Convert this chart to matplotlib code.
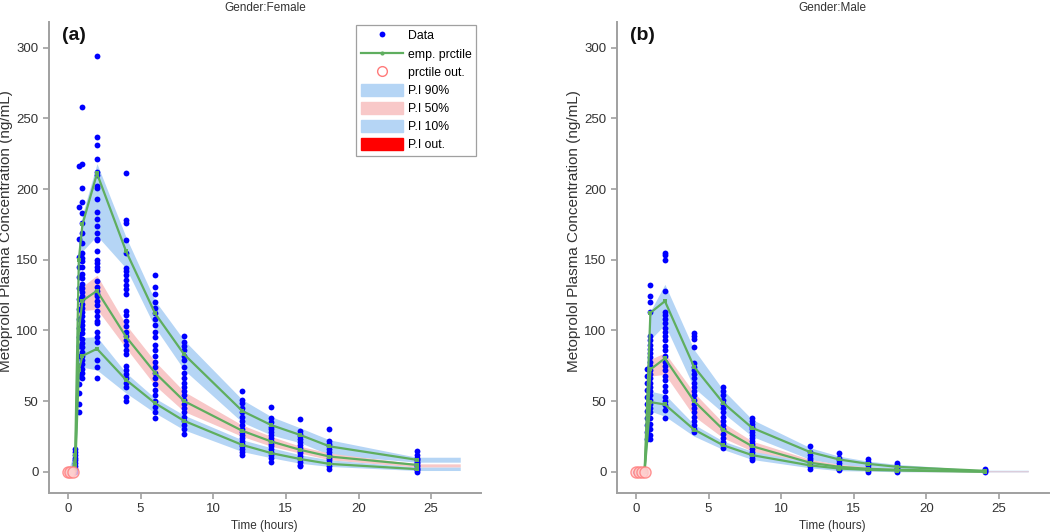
import matplotlib
matplotlib.use("Agg")
import matplotlib.pyplot as plt
from matplotlib.lines import Line2D
from matplotlib.patches import Patch

plt.rcParams["font.family"] = ["Liberation Sans", "DejaVu Sans"]

# ---- Female: observed concentrations by nominal time ----
F_DATA = {
    0.0: [0, 0, 0, 0],
    0.5: [0, 2, 4, 6, 8, 10, 12, 14, 16],
    0.75: [216, 187, 165, 152, 145, 138, 130, 122, 115, 108, 102, 95, 89, 82,
           75, 68, 62, 56, 48, 42],
    1.0: [258, 218, 201, 191, 183, 176, 169, 162, 155, 151, 149, 145, 140, 137,
          133, 130, 127, 124, 122, 119, 116, 113, 110, 107, 104, 101, 98, 94,
          91, 88, 85, 82, 79, 76, 73, 70, 66],
    2.0: [294, 237, 231, 221, 212, 210, 202, 201, 193, 184, 179, 174, 169, 165,
          164, 156, 150, 148, 145, 143, 135, 131, 128, 126, 124, 121, 118, 114,
          110, 107, 105, 99, 95, 92, 79, 74, 66],
    4.0: [211, 178, 176, 164, 155, 144, 142, 139, 136, 132, 129, 126, 114, 111,
          107, 103, 99, 96, 93, 90, 86, 83, 75, 72, 69, 66, 63, 60, 53, 50],
    6.0: [139, 131, 126, 120, 116, 112, 108, 104, 99, 95, 90, 86, 82, 78, 74,
          70, 66, 62, 58, 54, 50, 46, 42, 38],
    8.0: [96, 92, 89, 86, 82, 79, 74, 70, 66, 63, 60, 57, 54, 51, 48, 45, 42,
          39, 36, 33, 30, 27],
    12.0: [57, 51, 49, 45, 42, 39, 36, 33, 30, 28, 26, 24, 22, 20, 18, 16, 14, 12],
    14.0: [46, 38, 35, 32, 30, 28, 26, 24, 22, 20, 18, 16, 14, 12, 10, 7],
    16.0: [37, 29, 27, 25, 23, 21, 19, 17, 15, 13, 11, 9, 7, 5, 4],
    18.0: [30, 22, 20, 18, 16, 14, 12, 10, 8, 6, 4, 2],
    24.0: [15, 12, 10, 9, 8, 7, 6, 5, 4, 3, 2, 1, 0],
}

# ---- Male: observed concentrations by nominal time ----
M_DATA = {
    0.0: [0, 0, 0, 0],
    0.75: [73, 68, 63, 58, 53, 48, 43, 38, 33, 28, 23],
    1.0: [132, 124, 120, 113, 96, 93, 90, 87, 84, 81, 78, 75, 72, 69, 66, 63,
          60, 57, 54, 51, 48, 45, 42, 38, 34, 30, 26, 23],
    2.0: [155, 153, 150, 128, 113, 111, 108, 105, 102, 99, 96, 93, 89, 86, 82,
          78, 75, 72, 68, 65, 61, 57, 53, 50, 47, 44, 38],
    4.0: [98, 96, 94, 88, 77, 74, 72, 69, 66, 63, 60, 57, 54, 51, 48, 45, 42,
          39, 36, 33, 30, 28],
    6.0: [60, 57, 54, 51, 48, 45, 42, 39, 36, 33, 30, 27, 24, 21, 19, 17],
    8.0: [38, 36, 34, 32, 30, 28, 26, 24, 22, 20, 18, 16, 14, 12, 10, 8],
    12.0: [18, 14, 12, 10, 8, 6, 4, 2],
    14.0: [13, 10, 8, 6, 4, 2, 1],
    16.0: [9, 7, 5, 3, 2, 1, 0],
    18.0: [6, 5, 3, 2, 1, 0],
    24.0: [2, 1, 0.5, 0],
}

# ---- Female: empirical percentiles (10th, 50th, 90th) ----
F_PT = [0, 0.17, 0.33, 0.5, 0.75, 1, 2, 4, 6, 8, 12, 14, 16, 18, 24]
F_P90 = [0, 0, 0, 12, 150, 175, 211, 156, 112, 83, 43, 33, 26, 18, 8.5]
F_P50 = [0, 0, 0, 5, 100, 121, 128, 95.5, 70, 50, 29, 21.4, 15.5, 10.8, 4.9]
F_P10 = [0, 0, 0, 1, 72, 82, 87, 65, 48.5, 36, 19, 13.2, 9, 5.6, 1.9]
F_OUT_T = [0, 0.17, 0.33]

# ---- Female: prediction-interval bands (low, high) ----
F_BT = [0, 0.5, 0.75, 1, 2, 4, 6, 8, 12, 14, 16, 18, 24, 27]
F_B90_LO = [0, 8, 135, 156, 167, 144, 102, 72, 35, 26, 20.5, 12, 6.8, 6.8]
F_B90_HI = [0, 16, 160, 182, 218, 166, 121, 93, 51, 39, 31, 22.6, 10.3, 10.3]
F_B50_LO = [0, 3, 95, 114, 115, 87.5, 61, 42.6, 25, 18, 13.2, 8.5, 3.3, 3.3]
F_B50_HI = [0, 7, 118, 131, 139, 104, 78, 56.7, 33, 25, 18, 13.2, 5.6, 5.6]
F_B10_LO = [0, 0.5, 62, 74, 72, 55.7, 41.6, 29.6, 14.3, 9.9, 6, 3.8, 0.9, 0.9]
F_B10_HI = [0, 2, 85, 95, 95.5, 70, 52, 40, 22.6, 17, 12, 8.5, 3.3, 3.3]

# ---- Male: empirical percentiles ----
M_PT = [0, 0.2, 0.4, 0.6, 1, 2, 4, 6, 8, 12, 14, 16, 18, 24]
M_P90 = [0, 0, 0, 0, 112.5, 120.7, 74.3, 48.8, 31.1, 13.9, 8.7, 5.6, 3.5, 0.7]
M_P50 = [0, 0, 0, 0, 72.4, 80.2, 50, 29.9, 18.1, 6.4, 3.5, 2.1, 1.4, 0.2]
M_P10 = [0, 0, 0, 0, 49.3, 47.6, 29.9, 18.8, 11.8, 4.5, 2.3, 1.4, 0.9, 0]
M_OUT_T = [0, 0.2, 0.4, 0.6]

# ---- Male: prediction-interval bands ----
M_BT = [0, 0.6, 1, 2, 4, 6, 8, 12, 14, 16, 18, 24, 27]
M_B90_LO = [0, 0, 93.6, 104, 59.4, 41.7, 25, 8.7, 5.2, 2.8, 1.6, 0.2, 0.2]
M_B90_HI = [0, 0, 113.6, 132.6, 86.5, 58, 37, 17, 11, 7.5, 5.2, 1.1, 1.1]
M_B50_LO = [0, 0, 67.7, 68.9, 39.3, 24, 14.6, 4, 2.1, 0.7, 0.2, 0, 0]
M_B50_HI = [0, 0, 79.5, 84.2, 56, 34.7, 21.7, 8.7, 5.2, 3.5, 2.1, 0.9, 0.9]
M_B10_LO = [0, 0, 42.9, 39.3, 25.2, 15.8, 8.7, 2.8, 0.8, 0.5, 0, 0, 0]
M_B10_HI = [0, 0, 57, 54.7, 33.5, 21.7, 14.6, 6.8, 3.7, 2.4, 1.4, 0.5, 0.5]

BLUE_BAND = "#B5D5F5"
PINK_BAND = "#F8C8C8"
GREEN = "#5FAE5F"
DOT = "#0000FF"
RED_RING = "#FF7A7A"
SPINE = "#A0A0A0"
TXT = "#333333"


def panel(ax, data, pt, p90, p50, p10, out_t, bt, bands, title, tag):
    (b90lo, b90hi), (b50lo, b50hi), (b10lo, b10hi) = bands
    ax.fill_between(bt, b90lo, b90hi, color=BLUE_BAND, lw=0, zorder=1)
    ax.fill_between(bt, b50lo, b50hi, color=PINK_BAND, lw=0, zorder=1)
    ax.fill_between(bt, b10lo, b10hi, color=BLUE_BAND, lw=0, zorder=1)

    for t, vals in data.items():
        ax.plot([t] * len(vals), vals, "o", color=DOT, ms=4.2, mew=0, zorder=2)

    for p in (p90, p50, p10):
        ax.plot(pt, p, color=GREEN, lw=1.6, marker="s", ms=3, mew=0, zorder=3)

    for t in out_t:
        ax.plot([t], [0], "o", mfc="#FFD0D0", mec=RED_RING, ms=8,
                mew=1.0, alpha=0.8, zorder=4)

    ax.set_xlim(-1.3, 28.4)
    ax.set_ylim(-15, 318)
    ax.set_xticks([0, 5, 10, 15, 20, 25])
    ax.set_yticks([0, 50, 100, 150, 200, 250, 300])
    for side in ("top", "right"):
        ax.spines[side].set_visible(False)
    for side in ("left", "bottom"):
        ax.spines[side].set_color(SPINE)
        ax.spines[side].set_linewidth(1.4)
    ax.tick_params(colors=SPINE, labelcolor=TXT, labelsize=9.5, length=4,
                   width=1.2)
    ax.set_title(title, fontsize=8.5, color=TXT, pad=8)
    ax.set_xlabel("Time (hours)", fontsize=8.5, color=TXT, labelpad=3)
    ax.set_ylabel("Metoprolol Plasma Concentration (ng/mL)", fontsize=11,
                  color=TXT)
    ax.yaxis.set_label_coords(-0.083, 0.556)
    ax.text(0.03, 0.99, tag, transform=ax.transAxes, fontsize=14,
            fontweight="bold", va="top", ha="left", color="#111111")


fig = plt.figure(figsize=(10.5, 5.32), dpi=100)
ax1 = fig.add_axes([0.0467, 0.0733, 0.411, 0.885])
ax2 = fig.add_axes([0.5876, 0.0733, 0.411, 0.885])

panel(ax1, F_DATA, F_PT, F_P90, F_P50, F_P10, F_OUT_T, F_BT,
      [(F_B90_LO, F_B90_HI), (F_B50_LO, F_B50_HI), (F_B10_LO, F_B10_HI)],
      "Gender:Female", "(a)")
panel(ax2, M_DATA, M_PT, M_P90, M_P50, M_P10, M_OUT_T, M_BT,
      [(M_B90_LO, M_B90_HI), (M_B50_LO, M_B50_HI), (M_B10_LO, M_B10_HI)],
      "Gender:Male", "(b)")

handles = [
    Line2D([], [], ls="none", marker="o", color=DOT, ms=4.2, mew=0),
    Line2D([], [], color=GREEN, lw=1.6, marker="o", ms=3, mew=0),
    Line2D([], [], ls="none", marker="o", mfc="none", mec=RED_RING, ms=7, mew=1.0),
    Patch(color=BLUE_BAND),
    Patch(color=PINK_BAND),
    Patch(color=BLUE_BAND),
    Patch(color="#FF0000"),
]
labels = ["Data", "emp. prctile", "prctile out.", "P.I 90%", "P.I 50%",
          "P.I 10%", "P.I out."]
leg = ax1.legend(handles, labels, loc="upper right", bbox_to_anchor=(0.99, 0.995),
                 fontsize=8.8, frameon=True, fancybox=False, handlelength=3.4,
                 handleheight=1.1, labelspacing=0.42, borderpad=0.4,
                 handletextpad=0.4, borderaxespad=0)
leg.get_frame().set_edgecolor("#888888")
leg.get_frame().set_linewidth(0.9)

fig.savefig("out.png", dpi=100, facecolor="white")
